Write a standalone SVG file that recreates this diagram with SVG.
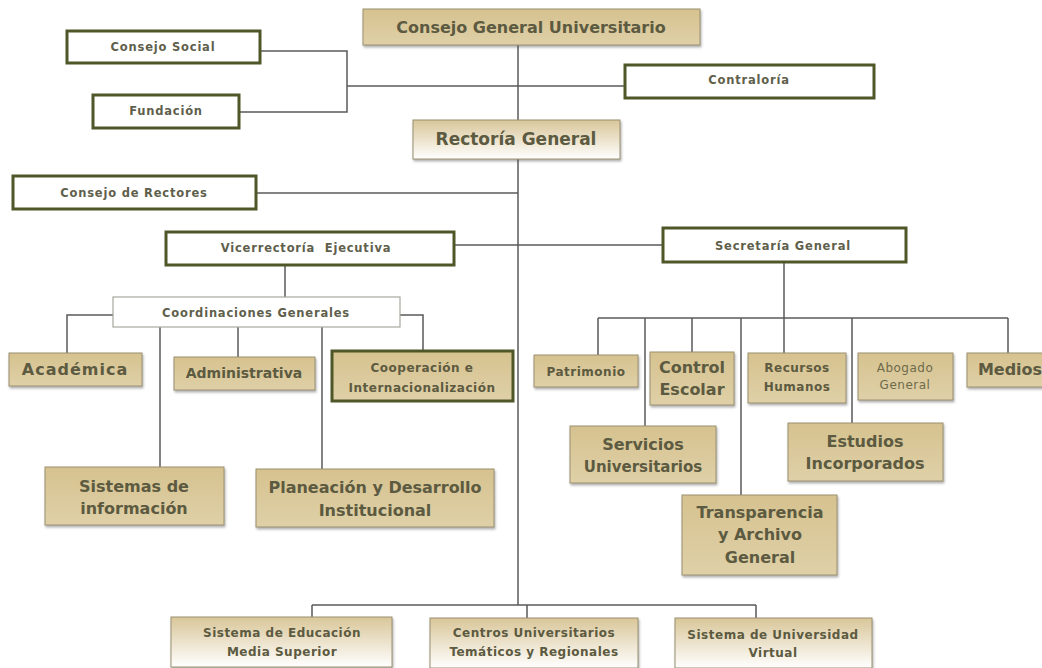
<svg xmlns="http://www.w3.org/2000/svg" width="1042" height="668" viewBox="0 0 1042 668">
<defs>
<linearGradient id="gTan" x1="0" y1="0" x2="0" y2="1"><stop offset="0" stop-color="#d6c28f"/><stop offset="1" stop-color="#dfd0a8"/></linearGradient>
<linearGradient id="gFade" x1="0" y1="0" x2="0" y2="1"><stop offset="0" stop-color="#d9c699"/><stop offset="1" stop-color="#ffffff"/></linearGradient>
<filter id="sh" x="-5%" y="-10%" width="115%" height="140%"><feDropShadow dx="1" dy="2" stdDeviation="1" flood-color="#555" flood-opacity="0.45"/></filter>
<style>
.tan{fill:url(#gTan);stroke:#9a9070;stroke-width:1;filter:url(#sh)}
.fade{fill:url(#gFade);stroke:#9a9070;stroke-width:1;filter:url(#sh)}
.wb{fill:#fff;stroke:#4e5728;stroke-width:3}
.thin{fill:#fff;stroke:#a8a8a0;stroke-width:1.2}
.db{fill:url(#gTan);stroke:#4e5728;stroke-width:3}
text{font-family:"DejaVu Sans","Liberation Sans",sans-serif;font-weight:bold;text-anchor:middle;fill:#5c5a40}
.s{font-size:11.5px;letter-spacing:0.8px;fill:#5f5f4c}
.m{font-size:12px;letter-spacing:0.5px}
.l{font-size:16px}
.c{fill:none;stroke:#5a5a5a;stroke-width:1.5}
</style>
</defs>
<g id="connectors">
<path class="c" d="M518,45 V605"/>
<path class="c" d="M260,51 H347 V112 H239"/>
<path class="c" d="M347,86 H625"/>
<path class="c" d="M256,193 H518"/>
<path class="c" d="M454,245 H663"/>
<path class="c" d="M285,265 V297"/>
<path class="c" d="M113,315 H67 V353"/>
<path class="c" d="M400,315 H423 V351"/>
<path class="c" d="M160,327 V467"/>
<path class="c" d="M238,327 V357"/>
<path class="c" d="M322,327 V469"/>
<path class="c" d="M784,262 V353"/>
<path class="c" d="M598,318 H1008"/>
<path class="c" d="M598,318 V355 M645,318 V426 M692,318 V352 M741,318 V495 M852,318 V423 M1008,318 V353"/>
<path class="c" d="M312,605 H756 M312,605 V617 M527,605 V618 M756,605 V618"/>
</g>
<g id="cgu"><rect class="tan" x="363" y="9" width="337" height="36"/><text class="l" x="531" y="33">Consejo General Universitario</text></g>
<g id="consejo-social"><rect class="wb" x="67" y="31" width="193" height="32"/><text class="s" x="163" y="51">Consejo Social</text></g>
<g id="fundacion"><rect class="wb" x="93" y="95" width="146" height="33"/><text class="s" x="166" y="115">Fundación</text></g>
<g id="contraloria"><rect class="wb" x="625" y="65" width="249" height="33"/><text class="s" x="749" y="84">Contraloría</text></g>
<g id="rectoria"><rect class="fade" x="413" y="120" width="207" height="39"/><text x="516" y="145" style="font-size:17px">Rectoría General</text></g>
<g id="consejo-rectores"><rect class="wb" x="13" y="176" width="243" height="33"/><text class="s" x="134" y="197">Consejo de Rectores</text></g>
<g id="vicerrectoria"><rect class="wb" x="166" y="232" width="288" height="33"/><text class="s" x="306" y="252" xml:space="preserve">Vicerrectoría  Ejecutiva</text></g>
<g id="secretaria"><rect class="wb" x="663" y="228" width="243" height="34"/><text class="s" x="783" y="250">Secretaría General</text></g>
<g id="coordinaciones"><rect class="thin" x="113" y="297" width="287" height="30"/><text class="s" x="256" y="317">Coordinaciones Generales</text></g>
<g id="academica"><rect class="tan" x="9" y="353" width="133" height="33"/><text class="l" x="75" y="375" style="letter-spacing:1px">Académica</text></g>
<g id="administrativa"><rect class="tan" x="174" y="357" width="141" height="33"/><text x="244" y="378" style="font-size:14px">Administrativa</text></g>
<g id="cooperacion"><rect class="db" x="332" y="351" width="181" height="50"/><text class="m" x="422" y="372">Cooperación e</text><text class="m" x="422" y="392">Internacionalización</text></g>
<g id="sistemas"><rect class="tan" x="45" y="467" width="179" height="58"/><text class="l" x="134" y="492">Sistemas de</text><text class="l" x="134" y="514">información</text></g>
<g id="planeacion"><rect class="tan" x="256" y="469" width="238" height="58"/><text class="l" x="375" y="493">Planeación y Desarrollo</text><text class="l" x="375" y="516">Institucional</text></g>
<g id="patrimonio"><rect class="tan" x="534" y="355" width="104" height="32"/><text class="m" x="586" y="376">Patrimonio</text></g>
<g id="control-escolar"><rect class="tan" x="650" y="352" width="84" height="53"/><text class="l" x="692" y="373">Control</text><text class="l" x="692" y="395">Escolar</text></g>
<g id="recursos-humanos"><rect class="tan" x="748" y="353" width="98" height="50"/><text class="m" x="797" y="372">Recursos</text><text class="m" x="797" y="391">Humanos</text></g>
<g id="abogado-general"><rect class="tan" x="858" y="353" width="95" height="47"/><text class="m" x="905" y="372" style="font-weight:normal;fill:#6e6a4a">Abogado</text><text class="m" x="905" y="389" style="font-weight:normal;fill:#6e6a4a">General</text></g>
<g id="medios"><rect class="tan" x="967" y="353" width="80" height="34"/><text class="l" x="1010" y="375">Medios</text></g>
<g id="servicios"><rect class="tan" x="570" y="426" width="146" height="57"/><text class="l" x="643" y="450">Servicios</text><text class="l" x="643" y="472" style="font-size:15px">Universitarios</text></g>
<g id="estudios"><rect class="tan" x="788" y="423" width="155" height="58"/><text class="l" x="865" y="447">Estudios</text><text class="l" x="865" y="469">Incorporados</text></g>
<g id="transparencia"><rect class="tan" x="682" y="495" width="155" height="80"/><text class="l" x="760" y="518">Transparencia</text><text class="l" x="760" y="540">y Archivo</text><text class="l" x="760" y="563">General</text></g>
<g id="sems"><rect class="fade" x="171" y="617" width="221" height="50"/><text class="m" x="282" y="637">Sistema de Educación</text><text class="m" x="282" y="656">Media Superior</text></g>
<g id="centros"><rect class="fade" x="430" y="618" width="208" height="50"/><text class="m" x="534" y="637">Centros Universitarios</text><text class="m" x="534" y="656">Temáticos y Regionales</text></g>
<g id="suv"><rect class="fade" x="675" y="618" width="197" height="50"/><text class="m" x="773" y="639">Sistema de Universidad</text><text class="m" x="773" y="657">Virtual</text></g>
</svg>
